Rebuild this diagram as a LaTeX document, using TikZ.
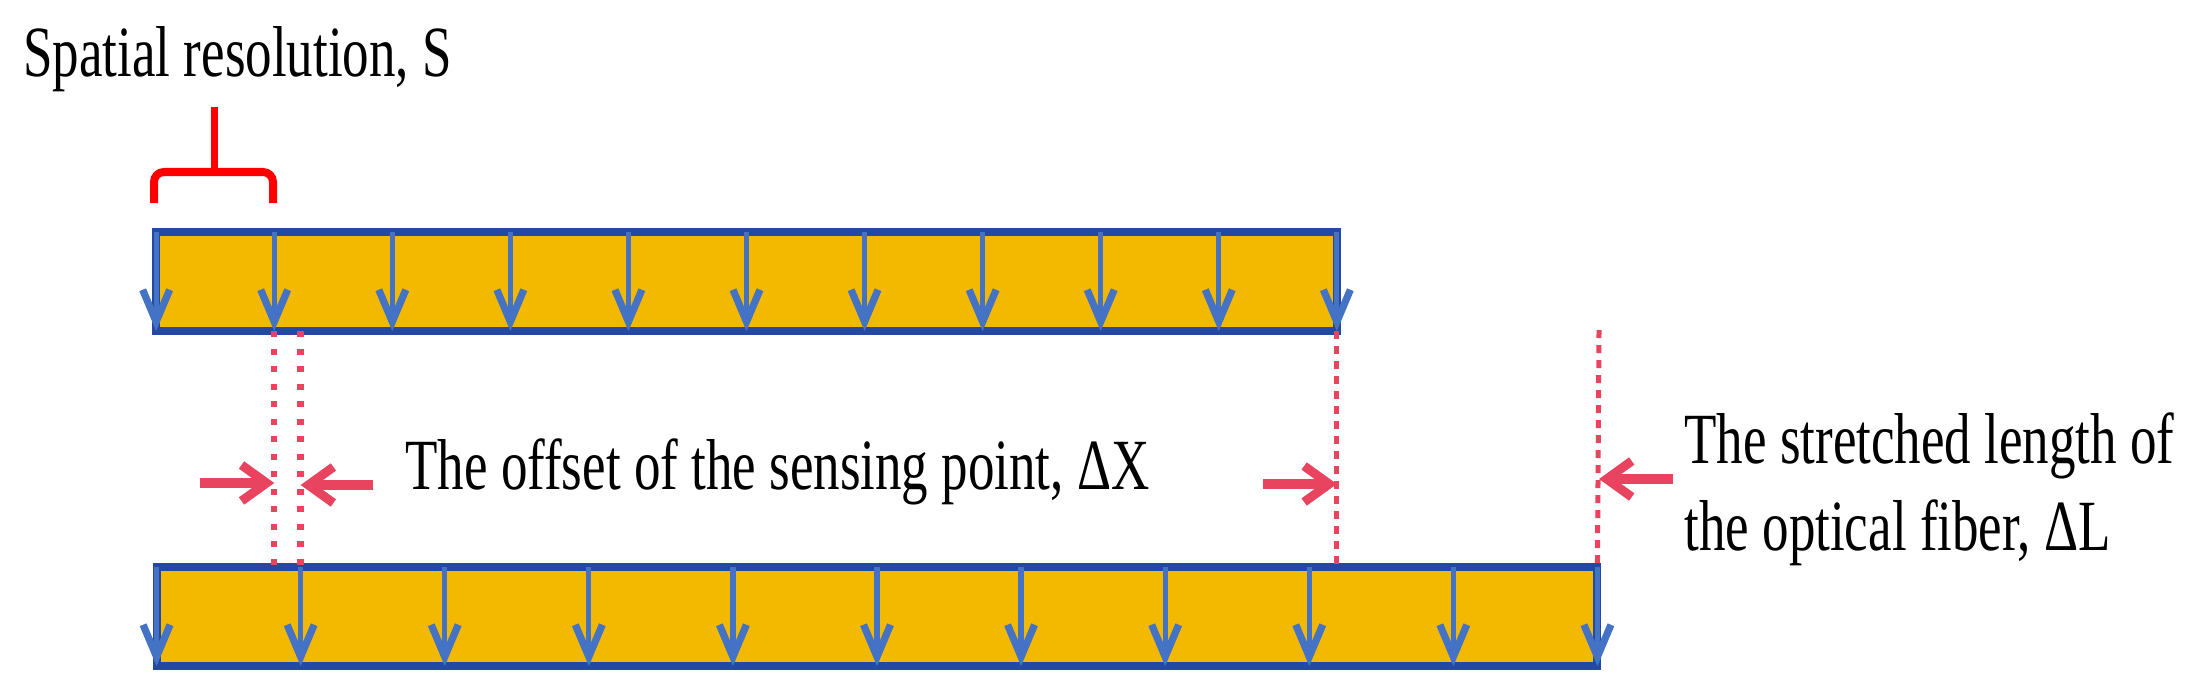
\documentclass[tikz,border=0pt]{standalone}
\usepackage{fontspec}
\setmainfont{Liberation Serif}
\usetikzlibrary{positioning,calc,arrows.meta}
\definecolor{barfill}{HTML}{F3B900}
\definecolor{baredge}{HTML}{2349A5}
\definecolor{sensepoint}{HTML}{4472C4}
\definecolor{offsetred}{HTML}{E8435F}
\tikzset{
	fiberbar/.style={draw=baredge,fill=barfill,line width=.8mm,outer sep=0pt,inner sep=0pt},
	sensearrow/.style={sensepoint,line width=.52mm,-{Straight Barb[length=3.2mm,width=2.7mm,line width=.72mm]}},
	guideline/.style={offsetred,line width=.65mm,dash pattern=on .6mm off 1.15mm},
	stretchline/.style={offsetred,line width=.5mm,dash pattern=on .8mm off .7mm},
	markarrow/.style={offsetred,line width=.95mm,-{Straight Barb[length=2.5mm,width=3.6mm,line width=.9mm]}},
	labeltext/.style={font=\fontsize{20.5}{24.7}\selectfont,xscale=.735,transform shape,inner sep=0pt,align=left}
}
\begin{document}
\begin{tikzpicture}[x=0.01cm,y=-0.01cm]
	\useasboundingbox (0,0) rectangle (2204,691);
	
	\node[fiberbar,minimum width=11.8cm,minimum height=.99cm] (TopBar) at (746.5,281.5) {};
	\node[fiberbar,minimum width=14.4cm,minimum height=.99cm] (BottomBar) at (877,616.5) {};
	
	\foreach \i in {0,...,10}{
		\draw[sensearrow] ($(TopBar.north west)!\i/10!(TopBar.north east)$) -- ($(TopBar.south west)!\i/10!(TopBar.south east)$);
		\draw[sensearrow] ($(BottomBar.north west)!\i/10!(BottomBar.north east)$) -- ($(BottomBar.south west)!\i/10!(BottomBar.south east)$);
	}
	
	\coordinate (Above A) at ($(TopBar.south west)!.1!(TopBar.south east)$);
	\coordinate (Below A) at (Above A |- BottomBar.north);
	\coordinate (Below B) at ($(BottomBar.north west)!.1!(BottomBar.north east)$);
	\coordinate (Above B) at (Below B |- TopBar.south);
	\coordinate (Above C) at (TopBar.south east);
	\coordinate (Below C) at (Above C |- BottomBar.north);
	\coordinate (Below D) at (BottomBar.north east);
	\coordinate (Above D) at (1599,330);
	
	\draw[guideline] (Above A) -- (Below A);
	\draw[guideline] (Above B) -- (Below B);
	\draw[stretchline] (Above C) -- (Below C);
	\draw[stretchline] (Above D) -- (Below D);
	
	\coordinate (Left A) at (200,483);
	\coordinate (Left B) at (373,485);
	\coordinate (Left C) at (1263,484);
	\coordinate (Left D) at (1673,479);
	
	\draw[markarrow] (Left A) -- (Left A -| Above A);
	\draw[markarrow] (Left B) -- (Left B -| Above B);
	\draw[markarrow] (Left C) -- (Left C -| Above C);
	\draw[markarrow] (Left D) -- (Left D -| Above D);
	
	\coordinate (Brace left) at (154,203);
	\coordinate (Brace right) at (273,203);
	\coordinate (Brace foot) at (214,172);
	\coordinate (Brace stem) at (214,107);
	\draw[red,line width=.8mm,rounded corners=1mm] (Brace left) |- (Brace foot) -| (Brace right);
	\draw[red,line width=.7mm] (Brace stem) -- (Brace foot);
	
	\node[labeltext,anchor=base west] (Spatial) at (23,77) {Spatial resolution, S};
	\node[labeltext,anchor=base west] (Offset) at (405,489) {The offset of the sensing point, ΔX};
	\node[labeltext,anchor=base west] (Stretched) at (1684,550) {The stretched length of\\the optical fiber, ΔL};
\end{tikzpicture}
\end{document}
